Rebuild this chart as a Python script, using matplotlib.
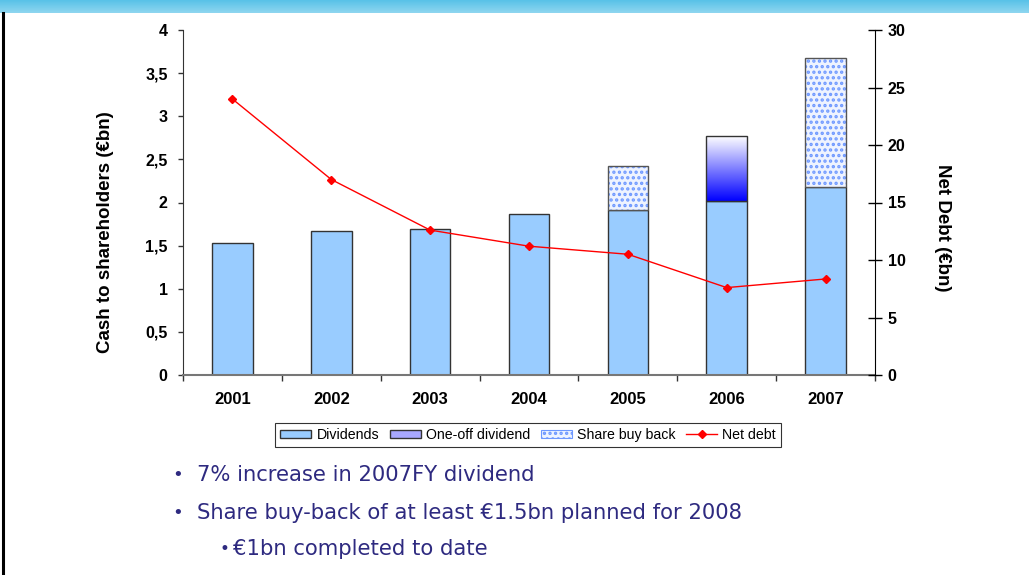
import numpy as np
import matplotlib
matplotlib.use("Agg")
import matplotlib.pyplot as plt
from matplotlib.patches import Patch
from matplotlib.lines import Line2D

years = ["2001", "2002", "2003", "2004", "2005", "2006", "2007"]
dividends = [1.53, 1.67, 1.69, 1.87, 1.91, 2.02, 2.18]
one_off = [0, 0, 0, 0, 0, 0.75, 0]
buy_back = [0, 0, 0, 0, 0.51, 0, 1.50]
net_debt = [24.0, 17.0, 12.6, 11.2, 10.5, 7.6, 8.35]
left_ticks = [0, 0.5, 1, 1.5, 2, 2.5, 3, 3.5, 4]
left_tick_labels = ["0", "0,5", "1", "1,5", "2", "2,5", "3", "3,5", "4"]
right_ticks = [0, 5, 10, 15, 20, 25, 30]
bullets = ["7% increase in 2007FY dividend",
           "Share buy-back of at least €1.5bn planned for 2008"]
sub_bullets = ["€1bn completed to date"]

plt.rcParams['font.family'] = ['Liberation Sans', 'DejaVu Sans']
plt.rcParams['hatch.linewidth'] = 1.6

fig = plt.figure(figsize=(10.29, 5.75), dpi=100)
fig.patch.set_facecolor('white')

# header band and left border
band = fig.add_axes([0, 1 - 13/575, 1, 13/575])
grad = np.linspace(0, 1, 20).reshape(-1, 1)
band.imshow(grad, aspect='auto', cmap=matplotlib.colors.LinearSegmentedColormap.from_list(
    'b', ['#59C2E8', '#8ED6F0']), extent=[0, 1, 0, 1])
band.axis('off')
fig.add_artist(Line2D([3/1029, 3/1029], [0, 1 - 13/575], color='black', lw=2.2,
                      transform=fig.transFigure))

ax = fig.add_axes([183/1029, 1 - 375/575, (875 - 183)/1029, (375 - 30)/575])
x = np.arange(len(years))
w = 0.41
div_color = '#99CCFF'
edge = '#333333'
hatch_color = '#6E98FF'

ax.bar(x, dividends, w, color=div_color, edgecolor=edge, lw=1, zorder=2)

bottom2 = np.array(dividends)
cmap_oo = matplotlib.colors.LinearSegmentedColormap.from_list('oo', ['#0000FF', '#FFFFFF'])
for i, v in enumerate(one_off):
    if v > 0:
        bars = ax.bar(x[i], v, w, bottom=bottom2[i], color='none', edgecolor=edge, lw=1, zorder=3)
        r = bars[0]
        x0, y0 = r.get_x(), r.get_y()
        img = ax.imshow(np.linspace(0, 1, 256).reshape(-1, 1), cmap=cmap_oo, origin='lower',
                        extent=[x0, x0 + r.get_width(), y0, y0 + r.get_height()],
                        aspect='auto', zorder=2.5)
        img.set_clip_path(r)
bottom3 = bottom2 + np.array(one_off)
for i, v in enumerate(buy_back):
    if v > 0:
        ax.bar(x[i], v, w, bottom=bottom3[i], color='#EEF3FF', edgecolor=hatch_color,
               hatch='...', lw=0, zorder=2)
        ax.bar(x[i], v, w, bottom=bottom3[i], color='none', edgecolor='#555555', lw=1, zorder=3)

ax.set_xlim(-0.5, len(years) - 0.5)
ax.set_ylim(0, 4)
ax.set_yticks(left_ticks)
ax.set_yticklabels(left_tick_labels, fontsize=11.5, fontweight='bold')
ax.set_xticks(np.arange(-0.5, len(years) + 0.5, 1))
ax.set_xticklabels([])
ax.tick_params(axis='x', direction='out', length=4, width=1, colors='#333333')
ax.tick_params(axis='y', direction='out', length=3.6, width=1, pad=7.5, colors='#333333',
               labelcolor='black')
for i, yl in enumerate(years):
    ax.text(x[i], -0.28, yl, ha='center', va='center', fontsize=12, fontweight='bold')
ax.spines['top'].set_visible(False)
ax.spines['right'].set_visible(False)
ax.spines['left'].set_color('#333333')
ax.spines['bottom'].set_color('#777777')
ax.spines['bottom'].set_linewidth(1.5)

ax2 = ax.twinx()
ax2.plot(x, net_debt, color='#FF0000', lw=1, marker='D', markersize=4.5, zorder=5)
ax2.set_ylim(0, 30)
ax2.set_yticks(right_ticks)
ax2.set_yticklabels([str(t) for t in right_ticks], fontsize=11.5, fontweight='bold')
ax2.tick_params(axis='y', direction='inout', length=10, width=1, pad=4)
for s in ['top', 'left', 'bottom']:
    ax2.spines[s].set_visible(False)
ax2.spines['right'].set_color('black')

fig.text(105/1029, 1 - 232/575, "Cash to shareholders (€bn)", rotation=90, ha='center',
         va='center', fontsize=13.5, fontweight='bold')
fig.text(943/1029, 1 - 228/575, "Net Debt (€bn)", rotation=-90, ha='center',
         va='center', fontsize=13.5, fontweight='bold')

handles = [Patch(facecolor=div_color, edgecolor=edge, lw=1),
           Patch(facecolor='#A8A8FF', edgecolor=edge, lw=1),
           Patch(facecolor='#EEF3FF', edgecolor=hatch_color, hatch='...', lw=0.8),
           Line2D([], [], color='#FF0000', lw=1, marker='D', markersize=4.5)]
labels = ["Dividends", "One-off dividend", "Share buy back", "Net debt"]
leg = fig.legend(handles, labels, loc='center', bbox_to_anchor=(528/1029, 1 - 435/575),
                 ncol=4, fontsize=10.2, frameon=True, fancybox=False, handlelength=2.2,
                 handleheight=0.55, handletextpad=0.35, columnspacing=0.75,
                 borderpad=0.35, edgecolor='black')
leg.get_frame().set_linewidth(0.8)

navy = '#2E2A80'
ys = [475, 513]
for yy, t in zip(ys, bullets):
    fig.text(172/1029, 1 - yy/575, "•", fontsize=13, color=navy, va='center', ha='left',
             family=['DejaVu Sans'])
    fig.text(197/1029, 1 - yy/575, t, fontsize=15.2, color=navy, va='center', ha='left',
             family=['DejaVu Sans'])
for t in sub_bullets:
    fig.text(219/1029, 1 - 549/575, "•", fontsize=12, color=navy, va='center', ha='left',
             family=['DejaVu Sans'])
    fig.text(233/1029, 1 - 549/575, t, fontsize=15.2, color=navy, va='center', ha='left',
             family=['DejaVu Sans'])

fig.savefig("out.png", dpi=100)
